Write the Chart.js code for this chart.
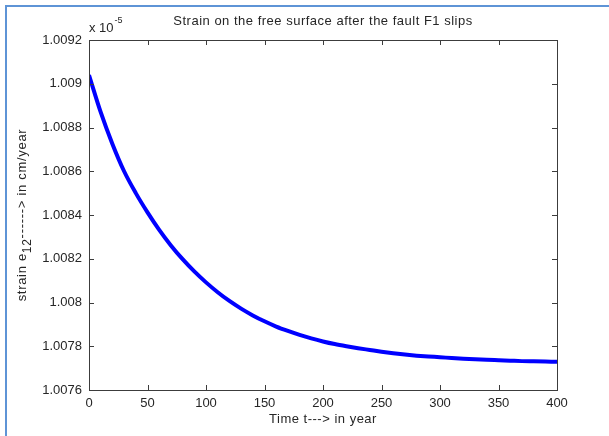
<!DOCTYPE html>
<html>
<head>
<meta charset="utf-8">
<script src="https://cdn.jsdelivr.net/npm/chart.js@4.4.1/dist/chart.umd.min.js"></script>
<style>
  html, body { margin: 0; padding: 0; background: #fff; overflow: hidden; }
  canvas { display: block; }
</style>
</head>
<body>
<canvas id="c" width="609" height="436"></canvas>
<script>
/* Strain e12 vs time after fault slip, MATLAB-style axes. */
const years = [0, 10, 20, 30, 40, 50, 60, 70, 80, 90, 100, 110, 120, 130, 140, 150,
  160, 170, 180, 190, 200, 210, 220, 230, 240, 250, 260, 270, 280, 290, 300,
  310, 320, 330, 340, 350, 360, 370, 380, 390, 400];
const strain = [1.009040, 1.008870, 1.008725, 1.008600, 1.008500, 1.008412, 1.008332,
  1.008261, 1.008198, 1.008142, 1.008092, 1.008047, 1.008007, 1.007972, 1.007941,
  1.007914, 1.007890, 1.007870, 1.007852, 1.007836, 1.007822, 1.007810, 1.007800,
  1.007791, 1.007783, 1.007775, 1.007768, 1.007762, 1.007757, 1.007753, 1.007750,
  1.007746, 1.007743, 1.007741, 1.007738, 1.007736, 1.007734, 1.007732, 1.007731,
  1.007730, 1.007729];
const xTicks = [0, 50, 100, 150, 200, 250, 300, 350, 400];
const yTicks = [1.0076, 1.0078, 1.008, 1.0082, 1.0084, 1.0086, 1.0088, 1.009, 1.0092];

const FONT = "'Liberation Sans', Arial, Helvetica, sans-serif";
const TEXT = '#262626';
const AXIS = '#3c3c3c';
const FRAME = '#5e94d6';

// frame, box, inward ticks and the extra labels
const matlabAxes = {
  id: 'matlabAxes',
  beforeDraw(chart) {
    const { ctx } = chart;
    ctx.save();
    ctx.fillStyle = FRAME;
    ctx.fillRect(5, 5, 2, chart.height - 5);
    ctx.fillRect(5, 5, chart.width - 5, 2);
    ctx.restore();
  },
  afterDraw(chart) {
    const { ctx, chartArea: a, scales: { x, y } } = chart;
    ctx.save();
    ctx.strokeStyle = AXIS;
    ctx.lineWidth = 1;
    ctx.strokeRect(a.left + 0.5, a.top + 0.5, a.right - a.left, a.bottom - a.top);
    ctx.beginPath();
    xTicks.forEach((t) => {
      const px = Math.round(x.getPixelForValue(t)) + 0.5;
      ctx.moveTo(px, a.bottom); ctx.lineTo(px, a.bottom - 5);
      ctx.moveTo(px, a.top); ctx.lineTo(px, a.top + 5);
    });
    yTicks.forEach((t) => {
      const py = Math.round(y.getPixelForValue(t)) + 0.5;
      ctx.moveTo(a.left, py); ctx.lineTo(a.left + 5, py);
      ctx.moveTo(a.right, py); ctx.lineTo(a.right - 5, py);
    });
    ctx.stroke();

    ctx.fillStyle = TEXT;
    ctx.font = '13px ' + FONT;
    ctx.textAlign = 'center';
    ctx.textBaseline = 'middle';
    ctx.letterSpacing = '0.5px';
    const cx = (a.left + a.right) / 2;
    ctx.fillText('Strain on the free surface after the fault F1 slips', cx, 21);
    ctx.fillText('Time t---> in year', cx, 419);

    // exponent marker
    ctx.letterSpacing = '0px';
    ctx.textAlign = 'left';
    ctx.textBaseline = 'alphabetic';
    ctx.fillText('x 10', a.left, 32);
    const w = ctx.measureText('x 10').width;
    ctx.font = '9px ' + FONT;
    ctx.fillText('-5', a.left + w + 1, 23);

    // rotated y title with subscript
    ctx.letterSpacing = '0.7px';
    ctx.translate(26, (a.top + a.bottom) / 2);
    ctx.rotate(-Math.PI / 2);
    const parts = [['strain e', 13, 0], ['12', 12, 5], ['------> in cm/year', 13, 0]];
    let total = 0;
    parts.forEach(([s, size]) => { ctx.font = size + 'px ' + FONT; total += ctx.measureText(s).width; });
    let pos = -total / 2;
    parts.forEach(([s, size, dy]) => {
      ctx.font = size + 'px ' + FONT;
      ctx.fillText(s, pos, dy);
      pos += ctx.measureText(s).width;
    });
    ctx.restore();
  },
};

new Chart(document.getElementById('c'), {
  type: 'line',
  data: {
    datasets: [{
      data: years.map((t, i) => ({ x: t, y: strain[i] })),
      borderColor: '#0000ff',
      borderWidth: 4,
      pointRadius: 0,
      tension: 0.4,
      cubicInterpolationMode: 'monotone',
      fill: false,
    }],
  },
  options: {
    responsive: false,
    animation: false,
    devicePixelRatio: 1,
    layout: { padding: { left: 0, top: 40, right: 52, bottom: 0 } },
    plugins: { legend: { display: false }, tooltip: { enabled: false }, title: { display: false } },
    scales: {
      x: {
        type: 'linear',
        min: 0,
        max: 400,
        grid: { display: false, drawTicks: false },
        border: { display: false },
        afterBuildTicks: (s) => { s.ticks = xTicks.map((v) => ({ value: v })); },
        afterFit: (s) => { s.height = 46; },
        ticks: { color: TEXT, font: { family: FONT, size: 13 }, padding: 6, maxRotation: 0 },
      },
      y: {
        min: 1.0076,
        max: 1.0092,
        grid: { display: false, drawTicks: false },
        border: { display: false },
        afterBuildTicks: (s) => { s.ticks = yTicks.map((v) => ({ value: v })); },
        afterFit: (s) => { s.width = 89; },
        ticks: {
          color: TEXT,
          font: { family: FONT, size: 13 },
          padding: 7,
          callback: (v) => String(+Number(v).toFixed(4)),
        },
      },
    },
  },
  plugins: [matlabAxes],
});
</script>
</body>
</html>
